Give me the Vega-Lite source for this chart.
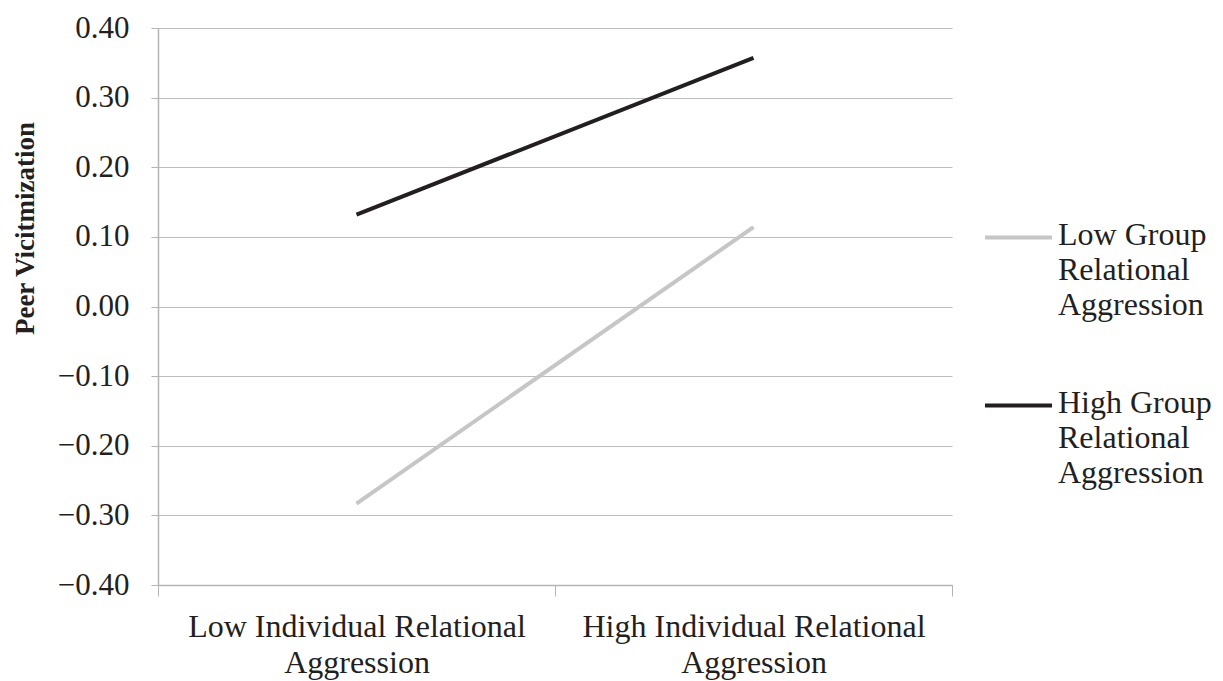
{
  "$schema": "https://vega.github.io/schema/vega-lite/v6.json",
  "width": 794,
  "height": 557,
  "autosize": {"type": "none"},
  "padding": {"left": 158, "top": 28, "right": 271, "bottom": 96},
  "background": "white",
  "config": {
    "view": {"stroke": null},
    "font": "Liberation Serif"
  },
  "data": {
    "values": [
      {"ind": "Low Individual Relational Aggression", "group": "Low Group Relational Aggression", "pv": -0.283},
      {"ind": "High Individual Relational Aggression", "group": "Low Group Relational Aggression", "pv": 0.114},
      {"ind": "Low Individual Relational Aggression", "group": "High Group Relational Aggression", "pv": 0.132},
      {"ind": "High Individual Relational Aggression", "group": "High Group Relational Aggression", "pv": 0.357}
    ]
  },
  "mark": {"type": "line", "strokeWidth": 4},
  "encoding": {
    "x": {
      "field": "ind",
      "type": "nominal",
      "sort": ["Low Individual Relational Aggression", "High Individual Relational Aggression"],
      "scale": {"type": "band", "paddingInner": 0, "paddingOuter": 0},
      "bandPosition": 0.5,
      "axis": {
        "title": null,
        "labelAngle": 0,
        "labelExpr": "datum.extra ? '' : datum.value == 'Low Individual Relational Aggression' ? ['Low Individual Relational', 'Aggression'] : ['High Individual Relational', 'Aggression']",
        "labelFontSize": 32,
        "labelColor": "#231f20",
        "labelLineHeight": 36,
        "labelBaseline": "top",
        "labelPadding": 15,
        "labelLimit": 500,
        "tickBand": "extent",
        "tickSize": 11,
        "tickColor": "#b5b5b5",
        "domainColor": "#b5b5b5",
        "domainWidth": 1.5,
        "grid": false
      }
    },
    "y": {
      "field": "pv",
      "type": "quantitative",
      "scale": {"domain": [-0.4, 0.4], "nice": false, "zero": false},
      "axis": {
        "title": "Peer Vicitmization",
        "titleFontSize": 27,
        "titleFontWeight": "bold",
        "titleColor": "#231f20",
        "titleAngle": -90,
        "titleX": -133,
        "titleY": 200,
        "titleAlign": "center",
        "titleBaseline": "middle",
        "values": [-0.4, -0.3, -0.2, -0.1, 0, 0.1, 0.2, 0.3, 0.4],
        "format": ".2f",
        "labelFontSize": 31,
        "labelColor": "#231f20",
        "labelPadding": 22,
        "tickSize": 7,
        "tickColor": "#b5b5b5",
        "domainColor": "#b5b5b5",
        "domainWidth": 1.5,
        "gridColor": "#bdbdbd",
        "gridWidth": 1.2
      }
    },
    "color": {
      "field": "group",
      "type": "nominal",
      "sort": ["Low Group Relational Aggression", "High Group Relational Aggression"],
      "scale": {"domain": ["Low Group Relational Aggression", "High Group Relational Aggression"], "range": ["#c6c6c6", "#231f20"]},
      "legend": {
        "title": null,
        "orient": "none",
        "legendX": 825,
        "legendY": 174,
        "padding": 0,
        "symbolType": "stroke",
        "symbolSize": 4489,
        "symbolStrokeWidth": 4,
        "labelFontSize": 32,
        "labelColor": "#231f20",
        "labelOffset": 4,
        "labelLimit": 300,
        "labelBaseline": "top",
        "rowPadding": 49,
        "labelExpr": "datum.value == 'Low Group Relational Aggression' ? ['Low Group', 'Relational', 'Aggression'] : ['High Group', 'Relational', 'Aggression']",
        "encode": {"labels": {"update": {"dy": {"value": -18}, "lineHeight": {"value": 35}}}}
      }
    }
  }
}
